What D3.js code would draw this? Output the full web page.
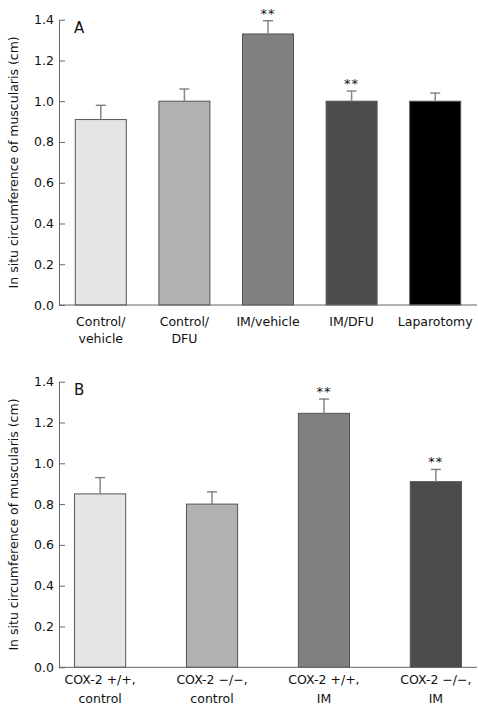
<!DOCTYPE html>
<html>
<head>
<meta charset="utf-8">
<script src="https://cdn.jsdelivr.net/npm/d3@7"></script>
<style>
html,body{margin:0;padding:0;background:#fff;}
text{font-family:"DejaVu Sans",sans-serif;fill:#111;}
</style>
</head>
<body>
<svg id="chart" width="478" height="708"></svg>
<script>
// Panel A data
const catsA = [["Control/","vehicle"],["Control/","DFU"],["IM/vehicle"],["IM/DFU"],["Laparotomy"]];
const valsA = [0.91, 1.00, 1.33, 1.00, 1.00];
const errA  = [0.07, 0.06, 0.065, 0.05, 0.04];
const sigA  = ["", "", "**", "**", ""];
const colorsA = ["#e5e5e5", "#b2b2b2", "#808080", "#4c4c4c", "#000000"];

// Panel B data
const catsB = [["COX-2 +/+,","control"],["COX-2 \u2212/\u2212,","control"],["COX-2 +/+,","IM"],["COX-2 \u2212/\u2212,","IM"]];
const valsB = [0.85, 0.80, 1.245, 0.91];
const errB  = [0.08, 0.06, 0.07, 0.06];
const sigB  = ["", "", "**", "**"];
const colorsB = ["#e5e5e5", "#b2b2b2", "#808080", "#4c4c4c"];

const yTicks = [0.0, 0.2, 0.4, 0.6, 0.8, 1.0, 1.2, 1.4];
const yTitle = "In situ circumference of muscularis (cm)";

const svg = d3.select("#chart");

function panel(cfg) {
  const g = svg.append("g");
  const x = d3.scaleBand().domain(d3.range(cfg.vals.length))
    .range([59, 477]).paddingInner(cfg.pi).paddingOuter(cfg.po);
  const y = d3.scaleLinear().domain([0, 1.4]).range([cfg.y0, cfg.y1]);

  // y axis
  const ya = g.append("g").attr("transform", "translate(59,0)")
    .call(d3.axisRight(y).tickValues(yTicks).tickFormat(d3.format(".1f")).tickSize(6).tickSizeOuter(0));
  ya.select(".domain").attr("stroke", "#666");
  ya.selectAll(".tick line").attr("stroke", "#666");
  ya.selectAll(".tick text").attr("x", -5).attr("text-anchor", "end")
    .attr("font-size", 12.5).attr("font-family", "DejaVu Sans").attr("fill", "#111");

  // bars
  g.selectAll("rect.bar").data(cfg.vals).enter().append("rect")
    .attr("x", (d, i) => x(i)).attr("width", x.bandwidth())
    .attr("y", d => y(d)).attr("height", d => y(0) - y(d))
    .attr("fill", (d, i) => cfg.colors[i]).attr("stroke", "#555").attr("stroke-width", 1);

  // error bars
  cfg.vals.forEach((v, i) => {
    const cx = x(i) + x.bandwidth() / 2;
    g.append("line").attr("x1", cx).attr("x2", cx).attr("y1", y(v)).attr("y2", y(v + cfg.err[i]))
      .attr("stroke", "#888").attr("stroke-width", 1.5);
    g.append("line").attr("x1", cx - 5).attr("x2", cx + 5).attr("y1", y(v + cfg.err[i])).attr("y2", y(v + cfg.err[i]))
      .attr("stroke", "#777").attr("stroke-width", 1.3);
    if (cfg.sig[i]) {
      g.append("text").attr("x", cx).attr("y", y(v + cfg.err[i]) - 3)
        .attr("text-anchor", "middle").attr("font-size", 13).attr("letter-spacing", 1).text(cfg.sig[i]);
    }
  });

  // x axis baseline
  g.append("line").attr("x1", 59).attr("x2", 477).attr("y1", y(0)).attr("y2", y(0))
    .attr("stroke", "#666").attr("stroke-width", 1);

  // x labels
  cfg.cats.forEach((c, i) => {
    const cx = x(i) + x.bandwidth() / 2;
    const t = g.append("text").attr("text-anchor", "middle").attr("font-size", 12.5)
      .attr("x", cx).attr("y", y(0) + cfg.lab0);
    c.forEach((line, j) => {
      t.append("tspan").attr("x", cx).attr("dy", j === 0 ? 0 : cfg.labDy).text(line);
    });
  });

  // panel letter
  g.append("text").attr("x", 74).attr("y", y(1.4) + 13).attr("font-size", 15).text(cfg.letter);

  // y title
  g.append("text").attr("transform", `translate(18,${(y(0) + y(1.4)) / 2}) rotate(-90)`)
    .attr("text-anchor", "middle").attr("font-size", 12.5).text(yTitle);
}

panel({cats: catsA, vals: valsA, err: errA, sig: sigA, colors: colorsA, pi: 0.39, po: 0.195, y0: 305, y1: 19.7, letter: "A", lab0: 21, labDy: 17});
panel({cats: catsB, vals: valsB, err: errB, sig: sigB, colors: colorsB, pi: 0.543, po: 0.139, y0: 667.3, y1: 381.7, letter: "B", lab0: 17, labDy: 19});
</script>
</body>
</html>
